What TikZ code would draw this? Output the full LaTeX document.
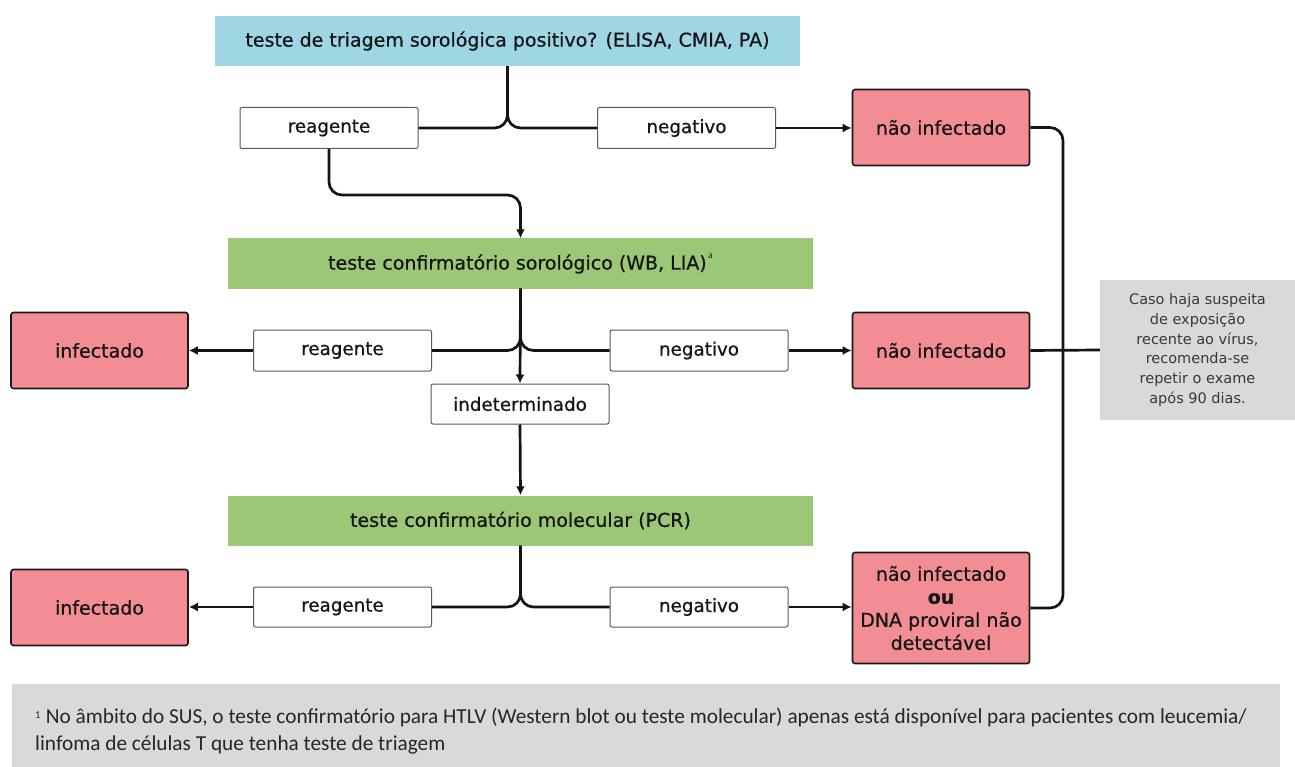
\documentclass[tikz,border=0pt]{standalone}
\usepackage{fontspec}
\setmainfont{DejaVu Sans}[FakeBold=0.6]
\newfontfamily\plainsans{DejaVu Sans}
\newfontfamily\notefont{Carlito}
\newfontfamily\serifa{Liberation Serif}
\usetikzlibrary{arrows.meta}
\definecolor{triblue}{HTML}{9ED6E4}
\definecolor{confgreen}{HTML}{9CC776}
\definecolor{respink}{HTML}{F28E93}
\definecolor{notegray}{HTML}{D9D9D9}
\definecolor{inkdark}{HTML}{151515}
\tikzset{
  testbox/.style={rectangle, fill=#1, draw=none, minimum width=585pt, minimum height=50pt,
    inner sep=0pt, font=\fontsize{19}{21}\selectfont, text=inkdark},
  labelbox/.style={rectangle, fill=white, draw=black!65, line width=1pt, rounded corners=2pt,
    minimum width=178pt, minimum height=41pt, inner sep=0pt,
    font=\fontsize{18.3}{21}\selectfont, text=inkdark},
  resultbox/.style={rectangle, fill=respink, draw=black!90, line width=1.6pt, rounded corners=2.5pt,
    minimum width=177pt, minimum height=76pt, inner sep=0pt, align=center,
    font=\fontsize{19}{23}\selectfont, text=inkdark},
  conn/.style={line width=2.7pt, draw=black!92, rounded corners=13pt},
  arr/.style={conn, -{Latex[length=9pt,width=9pt]}},
}
\begin{document}
\begin{tikzpicture}[x=1pt,y=-1pt]
\useasboundingbox (0,0) rectangle (1295,767);

% test stages
\node[testbox=triblue] (top) at (507.5,41) {teste de triagem sorológica positivo? (ELISA, CMIA, PA)};
\node[testbox=confgreen] (c1) at (520.5,263.5) {teste confirmatório sorológico (WB, LIA)\raisebox{1.1ex}{\serifa\fontsize{10}{10}\selectfont\,a}};
\node[testbox=confgreen] (c2) at (520.5,520.5) {teste confirmatório molecular (PCR)};

% result labels
\node[labelbox] (r1) at (329,128) {reagente};
\node[labelbox] (n1) at (686.5,128) {negativo};
\node[labelbox] (r2) at (342.5,350.5) {reagente};
\node[labelbox] (n2) at (699,350.5) {negativo};
\node[labelbox, minimum height=40pt] (ind) at (520,404) {indeterminado};
\node[labelbox, minimum height=40pt] (r3) at (342.5,607) {reagente};
\node[labelbox, minimum height=40pt] (n3) at (699,607) {negativo};

% outcomes
\node[resultbox] (ni1) at (941,127.5) {não infectado};
\node[resultbox] (inf1) at (99.5,350.5) {infectado};
\node[resultbox] (ni2) at (941,350.5) {não infectado};
\node[resultbox] (inf2) at (99.5,607.5) {infectado};
\node[resultbox, minimum height=111pt] (ni3) at (941,608)
  {não infectado\\\textbf{ou}\\DNA proviral não\\detectável};

% side note
\node[rectangle, fill=notegray, minimum width=195pt, minimum height=140pt, inner sep=0pt,
  align=center, text=black!78, font=\plainsans\fontsize{14.5}{19.7}\selectfont] (note) at (1197.5,350)
  {Caso haja suspeita\\de exposição\\recente ao vírus,\\recomenda-se\\repetir o exame\\após 90 dias.};

% footnote
\node[rectangle, fill=notegray, minimum width=1268pt, minimum height=84pt, inner sep=0pt] (foot) at (646,726) {};
\node[anchor=west, inner sep=0pt, align=left, text=black!85,
  font=\notefont\fontsize{21.3}{27}\selectfont] (foottext) at (35,731)
  {{\fontsize{15}{15}\selectfont\textsuperscript{1}} No âmbito do SUS, o teste confirmatório para HTLV (Western blot ou teste molecular) apenas está disponível para pacientes com leucemia/\\linfoma de células T que tenha teste de triagem};

% screening branch
\draw[conn] (r1.east) -| (top.south);
\draw[conn] (n1.west) -| (top.south);
\draw[arr] (n1.east) -- (n1.east -| ni1.west);
\coordinate (k1) at (520.5,195);
\draw[arr] (r1.south) |- (k1) -- (c1.north);

% serological confirmation branch
\draw[conn] (r2.east) -| (c1.south);
\draw[conn] (n2.west) -| (c1.south);
\draw[arr] (c1.south) -- (ind.north);
\draw[arr] (r2.west) -- (r2.west -| inf1.east);
\draw[arr] (n2.east) -- (n2.east -| ni2.west);
\draw[arr] (ind.south) -- (c2.north);

% molecular confirmation branch
\draw[conn] (r3.east) -| (c2.south);
\draw[conn] (n3.west) -| (c2.south);
\draw[arr] (r3.west) -- (r3.west -| inf2.east);
\draw[arr] (n3.east) -- (n3.east -| ni3.west);

% bracket joining the negative outcomes to the note
\coordinate (bar) at (1063,350.5);
\draw[conn] (ni1.east) -| (bar) |- (ni3.east);
\draw[conn] (ni2.east) -- (note.west);
\end{tikzpicture}
\end{document}
